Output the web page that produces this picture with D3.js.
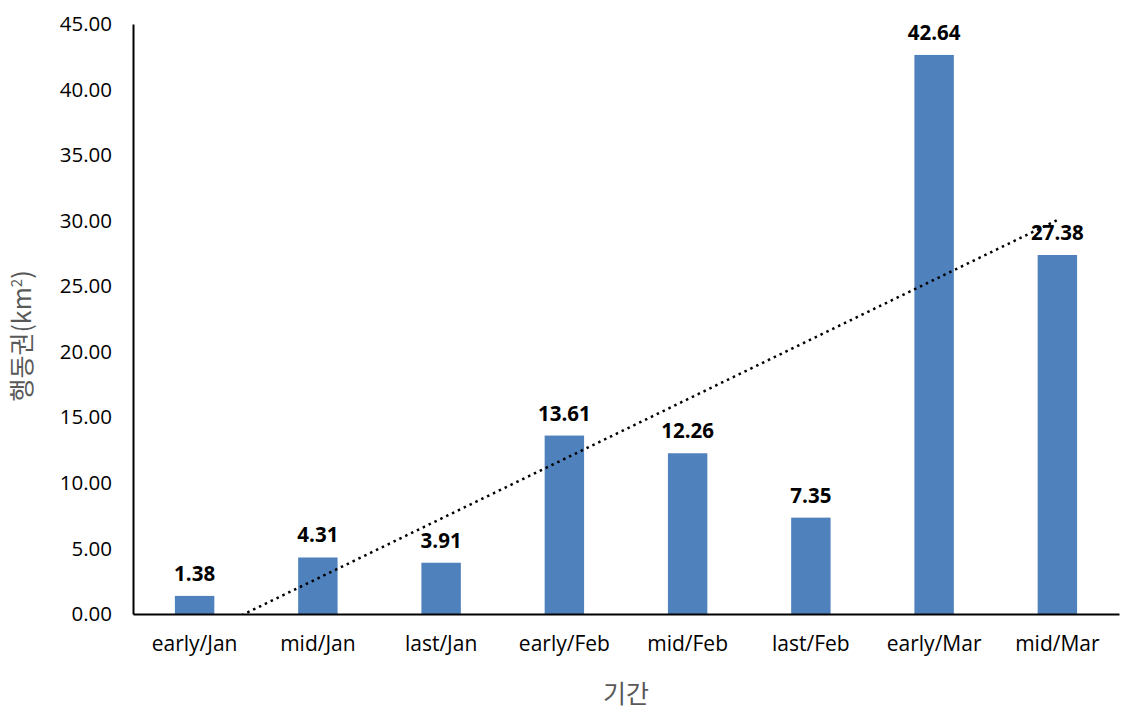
<!DOCTYPE html>
<html>
<head>
<meta charset="utf-8">
<script src="https://cdn.jsdelivr.net/npm/d3@7"></script>
<style>
  body { margin: 0; background: #fff; }
  text { font-family: "Open Sans", "Noto Sans CJK KR", sans-serif; }
</style>
</head>
<body>
<svg id="chart" width="1143" height="724"></svg>
<script>
// 기간별 행동권 (km²)
const periods = ['early/Jan', 'mid/Jan', 'last/Jan', 'early/Feb', 'mid/Feb', 'last/Feb', 'early/Mar', 'mid/Mar'];
const areas = [1.38, 4.31, 3.91, 13.61, 12.26, 7.35, 42.64, 27.38];
const yTicks = [0, 5, 10, 15, 20, 25, 30, 35, 40, 45];

const svg = d3.select('#chart');
const margin = { left: 133, right: 24, top: 24, bottom: 110 };
const W = 1143, H = 724;

const x = d3.scaleBand()
    .domain(periods)
    .range([margin.left, W - margin.right])
    .paddingInner(0.68)
    .paddingOuter(0.34);

const y = d3.scaleLinear()
    .domain([0, 45])
    .range([H - margin.bottom, margin.top]);

// clip for trendline
svg.append('clipPath').attr('id', 'plot-clip')
    .append('rect')
    .attr('x', margin.left)
    .attr('y', margin.top)
    .attr('width', W - margin.left - margin.right)
    .attr('height', y(0) - margin.top);

// bars
svg.append('g')
    .selectAll('rect')
    .data(periods)
    .join('rect')
    .attr('x', d => x(d))
    .attr('width', x.bandwidth())
    .attr('y', (d, i) => y(areas[i]))
    .attr('height', (d, i) => y(0) - y(areas[i]))
    .attr('fill', '#4f81bd');

// linear trendline (least squares, like Excel)
const n = areas.length;
const xs = d3.range(1, n + 1);
const mx = d3.mean(xs), my = d3.mean(areas);
const slope = d3.sum(xs, (v, i) => (v - mx) * (areas[i] - my)) / d3.sum(xs, v => (v - mx) ** 2);
const intercept = my - slope * mx;
const catX = k => x(periods[0]) + x.bandwidth() / 2 + (k - 1) * x.step();

svg.append('line')
    .attr('clip-path', 'url(#plot-clip)')
    .attr('x1', catX(1))
    .attr('y1', y(intercept + slope * 1))
    .attr('x2', catX(n))
    .attr('y2', y(intercept + slope * n))
    .attr('stroke', '#000')
    .attr('stroke-width', 2.5)
    .attr('stroke-dasharray', '2.5,4');

// data labels
svg.append('g')
    .selectAll('text')
    .data(periods)
    .join('text')
    .attr('x', d => x(d) + x.bandwidth() / 2)
    .attr('y', (d, i) => y(areas[i]) - 15)
    .attr('text-anchor', 'middle')
    .attr('font-size', 20.5)
    .attr('font-weight', 'bold')
    .attr('fill', '#000')
    .text((d, i) => areas[i].toFixed(2));

// y axis
const yAxis = svg.append('g')
    .attr('transform', `translate(${margin.left},0)`)
    .call(d3.axisLeft(y).tickValues(yTicks).tickFormat(d3.format('.2f')).tickSize(0).tickPadding(21));
yAxis.select('.domain').attr('stroke', '#000').attr('stroke-width', 2);
yAxis.selectAll('text').attr('font-size', 20.5).attr('fill', '#000')
    .style('font-family', '"Open Sans", sans-serif');

// x axis
const xAxis = svg.append('g')
    .attr('transform', `translate(0,${y(0)})`)
    .call(d3.axisBottom(x).tickSize(0).tickPadding(22));
xAxis.select('.domain').attr('stroke', '#000').attr('stroke-width', 2);
xAxis.selectAll('text').attr('font-size', 21).attr('fill', '#000')
    .style('font-family', '"Open Sans", sans-serif');

// axis titles
svg.append('text')
    .attr('x', (margin.left + W - margin.right) / 2)
    .attr('y', 703)
    .attr('text-anchor', 'middle')
    .attr('font-size', 25)
    .attr('fill', '#595959')
    .style('font-family', '"Noto Sans CJK KR", sans-serif')
    .text('기간');

const yTitle = svg.append('text')
    .attr('transform', 'translate(31,336) rotate(-90)')
    .attr('text-anchor', 'middle')
    .attr('font-size', 25)
    .attr('fill', '#595959')
    .style('font-family', '"Noto Sans CJK KR", sans-serif');
yTitle.append('tspan').text('행동권(km');
yTitle.append('tspan').attr('font-size', 15).attr('dy', -9).text('2');
yTitle.append('tspan').attr('dy', 9).text(')');
</script>
</body>
</html>
